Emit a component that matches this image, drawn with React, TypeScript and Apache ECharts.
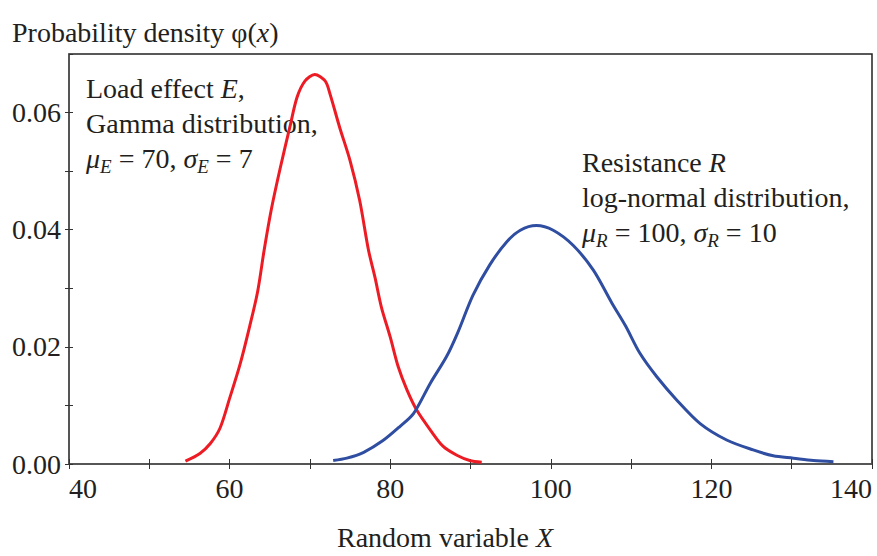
import React, { useEffect, useRef } from "react";
import * as echarts from "echarts";

// Load effect E (Gamma distribution)
const loadX = [54.5, 56.3, 57.6, 58.8, 60.0, 61.3, 62.5, 63.5, 64.3, 65.2, 66.3, 67.5, 68.4, 69.4, 70.6, 71.9, 72.5, 73.7, 75.0, 76.2, 77.3, 78.1, 78.9, 80.0, 81.0, 82.1, 83.3, 85.0, 86.6, 88.3, 89.9, 91.4];
const loadY = [0.0005, 0.0018, 0.0035, 0.0061, 0.0112, 0.0170, 0.0235, 0.0295, 0.0365, 0.0435, 0.0505, 0.0575, 0.0626, 0.0654, 0.0665, 0.0654, 0.0632, 0.0575, 0.0518, 0.0450, 0.0365, 0.0319, 0.0268, 0.0217, 0.0166, 0.0126, 0.0092, 0.0058, 0.0030, 0.0015, 0.0006, 0.0003];

// Resistance R (log-normal distribution)
const resX = [72.9, 74.6, 76.7, 79.1, 81.2, 82.9, 85.0, 87.0, 88.4, 90.3, 92.4, 94.5, 96.2, 98.2, 100.3, 102.8, 105.3, 107.6, 109.3, 111.1, 113.2, 115.7, 118.6, 121.9, 125.2, 127.7, 130.2, 132.7, 135.2];
const resY = [0.0006, 0.0010, 0.0020, 0.0040, 0.0064, 0.0086, 0.0138, 0.0183, 0.0224, 0.0288, 0.0340, 0.0379, 0.0399, 0.0407, 0.0399, 0.0373, 0.0331, 0.0275, 0.0236, 0.0189, 0.0149, 0.0109, 0.0069, 0.0041, 0.0024, 0.0014, 0.0010, 0.0006, 0.0004];

// Axis ranges / tick steps
const xRange = [40, 140];
const xStep = 10;
const xLabelStep = 20;
const yRange = [0, 0.07];
const yStep = 0.01;
const yLabelStep = 0.02;

const FONT = "'Liberation Serif', 'Times New Roman', serif";
const TXT = "#231f20";
const FS = 28;

export default function App() {
  const ref = useRef<HTMLDivElement>(null);
  useEffect(() => {
    document.body.style.margin = "0";
    if (!ref.current) return;
    const chart = echarts.init(ref.current, null, { renderer: "svg" });
    const xFmt = (v: number) => (Math.round(v) % xLabelStep === 0 ? String(Math.round(v)) : "");
    const yFmt = (v: number) => {
      const k = Math.round(v / yStep);
      return k % Math.round(yLabelStep / yStep) === 0 ? v.toFixed(2) : "";
    };
    const labelStyle = { fontFamily: FONT, fontSize: FS, color: TXT };
    const rich = {
      r: { fontFamily: FONT, fontSize: FS, color: TXT, lineHeight: 35 },
      i: { fontFamily: FONT, fontSize: FS, color: TXT, fontStyle: "italic", lineHeight: 35 },
      s: { fontFamily: FONT, fontSize: 19, color: TXT, fontStyle: "italic", verticalAlign: "bottom", lineHeight: 21 },
    };
    const richTight = {
      r: { fontFamily: FONT, fontSize: FS, color: TXT, lineHeight: 26 },
      i: { fontFamily: FONT, fontSize: FS, color: TXT, fontStyle: "italic", lineHeight: 26 },
    };
    const option: any = {
      animation: false,
      grid: { left: 69, right: 5, top: 54, bottom: 92, show: true, borderColor: "#222", borderWidth: 1.5 },
      xAxis: [
        {
          type: "value", min: xRange[0], max: xRange[1], interval: xStep,
          axisLine: { lineStyle: { color: "#555", width: 1.5 } },
          axisTick: { length: 5, lineStyle: { color: "#333" } },
          axisLabel: { ...labelStyle, margin: 10, formatter: xFmt, alignMinLabel: "left", alignMaxLabel: "right" },
          splitLine: { show: false },
        },
        {
          type: "value", min: xRange[0], max: xRange[1], interval: xStep, position: "bottom",
          axisLine: { show: false },
          axisTick: { inside: true, length: 5, lineStyle: { color: "#333" } },
          axisLabel: { show: false }, splitLine: { show: false },
        },
      ],
      yAxis: [
        {
          type: "value", min: yRange[0], max: yRange[1], interval: yStep,
          axisLine: { show: true, lineStyle: { color: "#555", width: 1.5 } },
          axisTick: { show: true, length: 4, lineStyle: { color: "#333" } },
          axisLabel: { ...labelStyle, margin: 8, formatter: yFmt, showMaxLabel: false },
          splitLine: { show: false },
        },
        {
          type: "value", min: yRange[0], max: yRange[1], interval: yStep, position: "left",
          axisLine: { show: false },
          axisTick: { show: true, inside: true, length: 4, lineStyle: { color: "#333" } },
          axisLabel: { show: false }, splitLine: { show: false },
        },
      ],
      series: [
        {
          type: "line", name: "Load effect E", xAxisIndex: 0, yAxisIndex: 0,
          data: loadX.map((x, i) => [x, loadY[i]]),
          showSymbol: false, smooth: 0.3,
          lineStyle: { color: "#ed1c24", width: 3 },
        },
        {
          type: "line", name: "Resistance R", xAxisIndex: 0, yAxisIndex: 0,
          data: resX.map((x, i) => [x, resY[i]]),
          showSymbol: false, smooth: 0.3,
          lineStyle: { color: "#2f4ea1", width: 3 },
        },
      ],
      graphic: [
        {
          type: "text", left: 12, top: 18,
          style: { text: "{r|Probability density φ(}{i|x}{r|)}", rich: richTight, fill: TXT },
        },
        {
          type: "text", left: 337, top: 523,
          style: { text: "{r|Random variable }{i|X}", rich: richTight, fill: TXT },
        },
        {
          type: "text", left: 86, top: 74,
          style: {
            text: "{r|Load effect }{i|E}{r|,}\n{r|Gamma distribution,}\n{i|μ}{s|E}{r| = 70, }{i|σ}{s|E}{r| = 7}",
            rich, fill: TXT,
          },
        },
        {
          type: "text", left: 582, top: 148,
          style: {
            text: "{r|Resistance }{i|R}\n{r|log-normal distribution,}\n{i|μ}{s|R}{r| = 100, }{i|σ}{s|R}{r| = 10}",
            rich, fill: TXT,
          },
        },
      ],
    };
    chart.setOption(option);
    return () => chart.dispose();
  }, []);
  return <div ref={ref} style={{ width: 877, height: 556 }} />;
}
